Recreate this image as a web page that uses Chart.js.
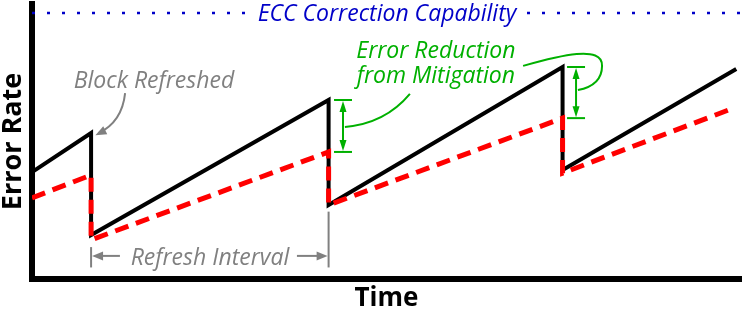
<!DOCTYPE html>
<html>
<head>
<meta charset="utf-8">
<script src="https://cdn.jsdelivr.net/npm/chart.js@4.4.1/dist/chart.umd.min.js"></script>
<style>
  html, body { margin: 0; padding: 0; background: #fff; }
</style>
</head>
<body>
<canvas id="chart" width="748" height="312"></canvas>
<script>
// block refreshed at these times (x units = refresh intervals)
const refreshTimes = [0.25, 1.255, 2.245];

// error rate without mitigation (black sawtooth)
const baseTime  = [0, 0.25, 0.25, 1.255, 1.255, 2.245, 2.245, 2.98];
const baseError = [38.9, 53.1, 16.0, 65.1, 26.9, 77.1, 39.6, 76.4];

// error rate with mitigation (red dashed)
const mitTime  = [0, 0.25, 0.25, 1.255, 1.255, 2.245, 2.245, 2.97];
const mitError = [29.5, 37.8, 14.2, 46.2, 26.9, 58.5, 38.5, 62.2];

// ECC correction capability (blue dotted)
const eccTime  = [0, 3.02];
const eccLevel = [96.7, 96.7];

const BLUE = '#0000c8', GREEN = '#00b000', GRAY = '#808080', RED = '#ff0000';
const ITALIC = 'italic 23px "Open Sans"';

function pts(xs, ys){ return xs.map((v, i) => ({ x: v, y: ys[i] })); }

function arrowHead(ctx, x0, y0, x1, y1, len, half){
  // filled triangle with tip at (x1,y1), pointing from (x0,y0)
  const a = Math.atan2(y1 - y0, x1 - x0);
  ctx.beginPath();
  ctx.moveTo(x1, y1);
  ctx.lineTo(x1 - len * Math.cos(a) + half * Math.sin(a), y1 - len * Math.sin(a) - half * Math.cos(a));
  ctx.lineTo(x1 - len * Math.cos(a) - half * Math.sin(a), y1 - len * Math.sin(a) + half * Math.cos(a));
  ctx.closePath();
  ctx.fill();
}

function line(ctx, x0, y0, x1, y1){
  ctx.beginPath(); ctx.moveTo(x0, y0); ctx.lineTo(x1, y1); ctx.stroke();
}

// double arrow showing the gap between curves at a refresh
function gapArrow(ctx, P, t, hi, lo){
  const [ax, ay] = P(t, hi);
  const [, by] = P(t, lo);
  line(ctx, ax - 9, ay, ax + 9, ay);
  line(ctx, ax - 9, by, ax + 9, by);
  line(ctx, ax, ay + 8, ax, by - 8);
  arrowHead(ctx, ax, by, ax, ay + 1, 11, 3.5);
  arrowHead(ctx, ax, ay, ax, by - 1, 11, 3.5);
}

const notes = {
  id: 'notes',
  afterDatasetsDraw(chart){
    const { ctx, scales: { x, y }, chartArea } = chart;
    const P = (a, b) => [x.getPixelForValue(a), y.getPixelForValue(b)];
    ctx.save();
    ctx.textAlign = 'center';
    ctx.textBaseline = 'alphabetic';

    // corner of the axes
    ctx.fillStyle = '#000';
    ctx.fillRect(chartArea.left - 3, chartArea.bottom - 3, 6, 6);

    // ECC label on the dotted line
    ctx.font = ITALIC;
    let [tx, ty] = P(1.502, eccLevel[0]);
    const w = ctx.measureText('ECC Correction Capability').width;
    ctx.fillStyle = '#fff';
    ctx.fillRect(tx - w / 2 - 6, ty - 6, w + 12, 12);
    ctx.fillStyle = BLUE;
    ctx.fillText('ECC Correction Capability', tx, ty + 8);

    // block refreshed
    ctx.fillStyle = GRAY;
    ctx.strokeStyle = GRAY;
    ctx.lineWidth = 2;
    [tx, ty] = P(0.516, 69.5);
    ctx.fillText('Block Refreshed', tx, ty);
    const g0 = P(0.394, 67.6), g1 = P(0.381, 57.1), g2 = P(0.281, 53.0);
    ctx.beginPath();
    ctx.moveTo(g0[0], g0[1]);
    ctx.quadraticCurveTo(g1[0], g1[1], g2[0], g2[1]);
    ctx.stroke();
    arrowHead(ctx, g1[0], g1[1], g2[0] - 3, g2[1] + 2, 11, 4.5);

    // refresh interval
    const [l0, ly] = P(refreshTimes[0], 8.4);
    const [r0] = P(refreshTimes[1], 8.4);
    const [, barTop] = P(0, 11.6);
    const [, barBot] = P(0, 4.2);
    const [, bar2Top] = P(0, 24.5);
    line(ctx, l0, barTop, l0, barBot);
    line(ctx, r0, bar2Top, r0, barBot);
    const [la] = P(0.372, 0), [ra] = P(1.121, 0);
    line(ctx, l0 + 6, ly, la, ly);
    arrowHead(ctx, la, ly, l0 + 1, ly, 11, 4.5);
    line(ctx, ra, ly, r0 - 6, ly);
    arrowHead(ctx, ra, ly, r0 - 1, ly, 11, 4.5);
    [tx, ty] = P(0.753, 5.1);
    ctx.fillText('Refresh Interval', tx, ty);

    // error reduction from mitigation
    ctx.fillStyle = GREEN;
    ctx.strokeStyle = GREEN;
    ctx.lineWidth = 2;
    [tx, ty] = P(1.709, 80.4);
    ctx.fillText('Error Reduction', tx, ty);
    [tx, ty] = P(1.709, 71.3);
    ctx.fillText('from Mitigation', tx, ty);
    gapArrow(ctx, P, 1.316, baseError[3], mitError[3]);
    gapArrow(ctx, P, 2.302, baseError[5], mitError[5]);

    const a0 = P(1.599, 67.3), a1 = P(1.494, 56.5), a2 = P(1.324, 55.3);
    ctx.beginPath();
    ctx.moveTo(a0[0], a0[1]);
    ctx.quadraticCurveTo(a1[0], a1[1], a2[0], a2[1]);
    ctx.stroke();

    const b0 = P(2.078, 77.5), b1 = P(2.234, 81.3), b2 = P(2.415, 85.2),
          b3 = P(2.412, 77.5), b4 = P(2.412, 70.5), b5 = P(2.310, 68.7);
    ctx.beginPath();
    ctx.moveTo(b0[0], b0[1]);
    ctx.bezierCurveTo(b1[0], b1[1], b2[0], b2[1], b3[0], b3[1]);
    ctx.quadraticCurveTo(b4[0], b4[1], b5[0], b5[1]);
    ctx.stroke();

    ctx.restore();
  }
};

const axisTitleFont = size => ({ family: 'Open Sans', weight: 'bold', size, lineHeight: 1 });

new Chart(document.getElementById('chart'), {
  type: 'line',
  data: {
    datasets: [
      { label: 'With mitigation', data: pts(mitTime, mitError), borderColor: RED,
        borderWidth: 5, borderDash: [14, 8], pointRadius: 0, tension: 0 },
      { label: 'Baseline', data: pts(baseTime, baseError), borderColor: '#000',
        borderWidth: 4, pointRadius: 0, tension: 0 },
      { label: 'ECC Correction Capability', data: pts(eccTime, eccLevel), borderColor: BLUE,
        borderWidth: 2.5, borderDash: [3, 12], pointRadius: 0, clip: false }
    ]
  },
  options: {
    responsive: false, animation: false, devicePixelRatio: 1,
    layout: { padding: { top: 4, right: 7, left: 0, bottom: 0 } },
    plugins: { legend: { display: false }, tooltip: { enabled: false } },
    scales: {
      x: {
        type: 'linear', min: 0, max: 3,
        grid: { display: false, drawTicks: false },
        ticks: { display: false },
        border: { display: true, width: 6, color: '#000' },
        title: { display: true, text: 'Time', color: '#000', font: axisTitleFont(26),
                 padding: { top: 7, bottom: 0 } }
      },
      y: {
        min: 0, max: 100,
        grid: { display: false, drawTicks: false },
        ticks: { display: false },
        border: { display: true, width: 6, color: '#000' },
        title: { display: true, text: 'Error Rate', color: '#000', font: axisTitleFont(27),
                 padding: { top: 0, bottom: 5 } }
      }
    }
  },
  plugins: [notes]
});
</script>
</body>
</html>
